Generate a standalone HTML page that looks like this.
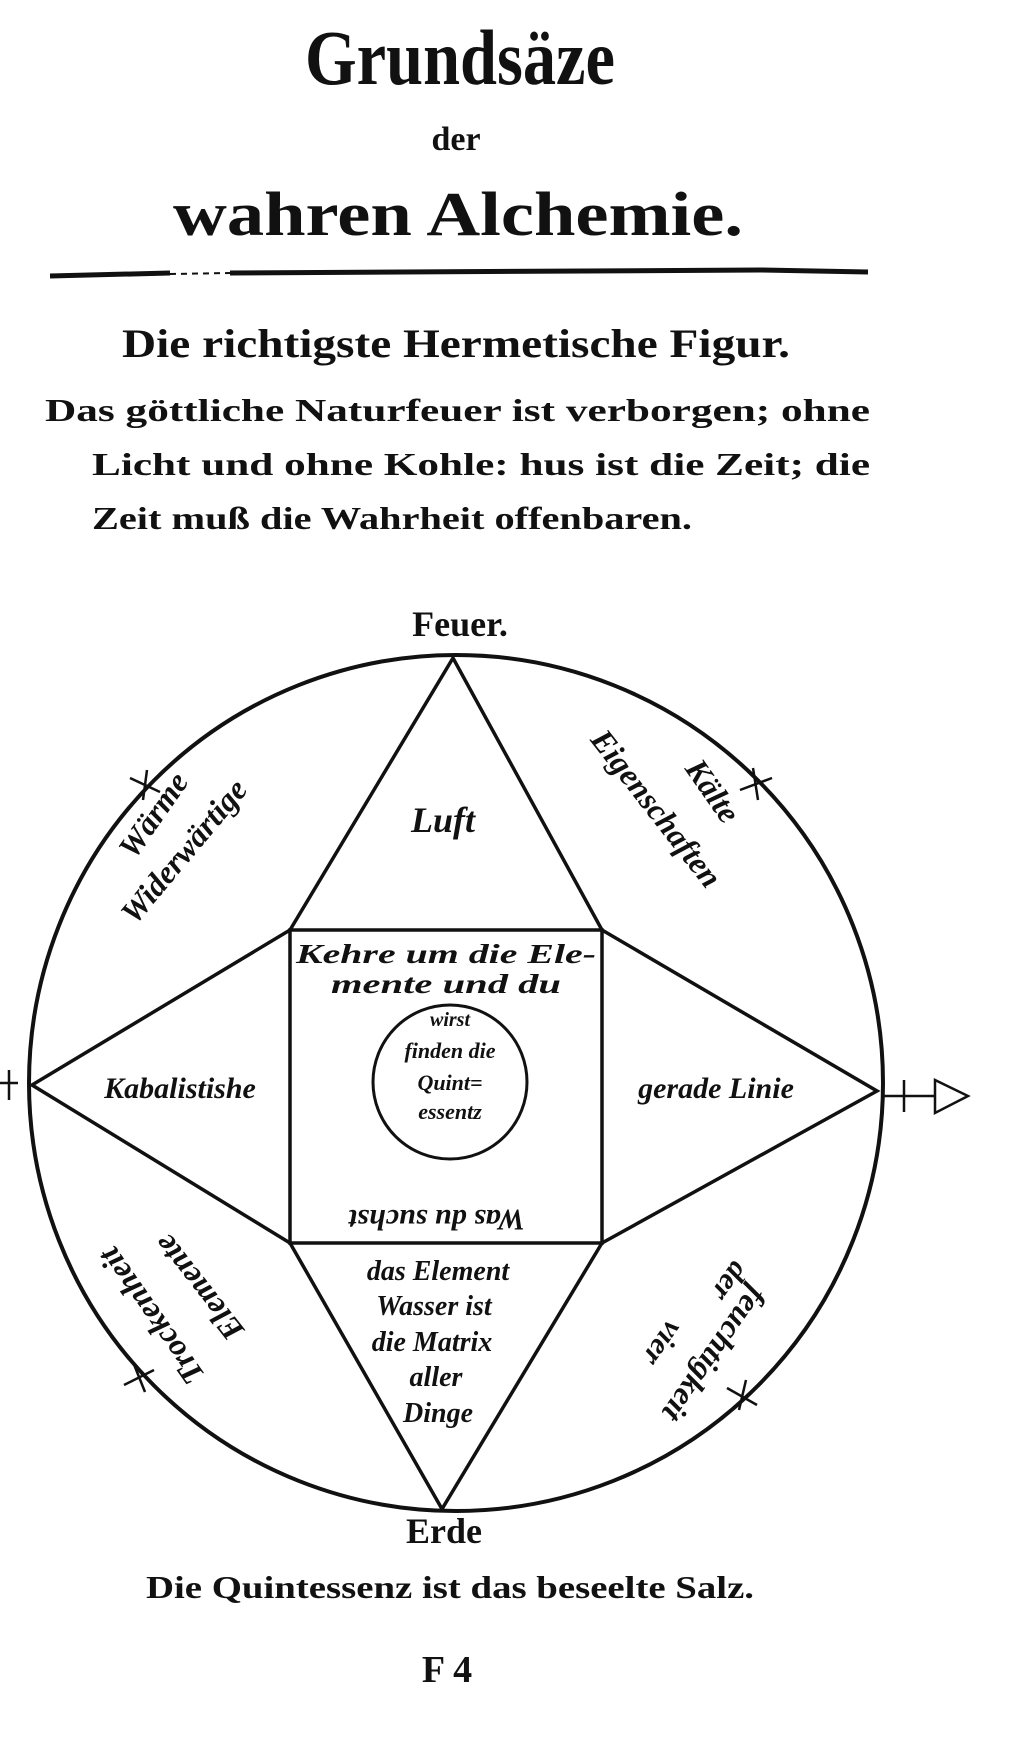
<!DOCTYPE html>
<html><head><meta charset="utf-8"><style>
html,body{margin:0;padding:0;background:#fff;}
svg{display:block;}
text{font-family:"Liberation Serif",serif;fill:#111;}
.it{font-style:italic;}
</style></head><body>
<svg width="1011" height="1756" viewBox="0 0 1011 1756" xmlns="http://www.w3.org/2000/svg">
<!-- header -->
<text x="460" y="84" font-size="78" font-weight="bold" text-anchor="middle" textLength="310" lengthAdjust="spacingAndGlyphs">Grundsäze</text>
<text x="456" y="150" font-size="34" font-weight="bold" text-anchor="middle">der</text>
<text x="458" y="235" font-size="62" font-weight="bold" text-anchor="middle" textLength="570" lengthAdjust="spacingAndGlyphs">wahren Alchemie.</text>
<path d="M50 276 L170 273 M230 273 L760 270 M760 270 L868 272" stroke="#111" stroke-width="5" fill="none"/>
<path d="M170 274 L230 273" stroke="#111" stroke-width="2" stroke-dasharray="6 5"/>
<text x="456" y="357" font-size="40" font-weight="bold" text-anchor="middle" textLength="668" lengthAdjust="spacingAndGlyphs">Die richtigste Hermetische Figur.</text>
<text x="45" y="421" font-size="32" font-weight="bold" textLength="825" lengthAdjust="spacingAndGlyphs">Das göttliche Naturfeuer ist verborgen; ohne</text>
<text x="92" y="475" font-size="32" font-weight="bold" textLength="778" lengthAdjust="spacingAndGlyphs">Licht und ohne Kohle: hus ist die Zeit; die</text>
<text x="92" y="529" font-size="32" font-weight="bold" textLength="600" lengthAdjust="spacingAndGlyphs">Zeit muß die Wahrheit offenbaren.</text>

<!-- diagram -->
<g stroke="#111" fill="none" stroke-width="4">
<ellipse cx="456" cy="1083" rx="427" ry="428"/>
<rect x="290" y="930" width="312" height="313" stroke-width="3.5"/>
<circle cx="450" cy="1082" r="77" stroke-width="3"/>
<path d="M290 930 L453 658 L602 930" stroke-width="3.5"/>
<path d="M290 1243 L442 1509 L602 1243" stroke-width="3.5"/>
<path d="M290 930 L32 1085 L290 1243" stroke-width="3.5"/>
<path d="M602 930 L877 1091 L602 1243" stroke-width="3.5"/>
<g stroke-width="2.5">
<path d="M130 778 L160 792 M147 770 L143 800"/>
<path d="M740 790 L772 778 M753 768 L758 800"/>
<path d="M124 1385 L154 1370 M133 1362 L145 1392"/>
<path d="M727 1388 L757 1405 M746 1380 L739 1410"/>
<path d="M0 1083 L18 1083 M9 1070 L9 1100"/>
<path d="M883 1096 L935 1096 M904 1080 L904 1112 M935 1080 L968 1096 L935 1113 Z"/>
</g>
</g>
<text x="460" y="636" font-size="36" font-weight="bold" text-anchor="middle">Feuer.</text>
<text x="444" y="1543" font-size="36" font-weight="bold" text-anchor="middle">Erde</text>
<text x="450" y="1598" font-size="32" font-weight="bold" text-anchor="middle" textLength="608" lengthAdjust="spacingAndGlyphs">Die Quintessenz ist das beseelte Salz.</text>
<text x="447" y="1682" font-size="38" font-weight="bold" text-anchor="middle">F 4</text>

<g class="it" font-weight="bold">
<text x="443" y="832" font-size="36" text-anchor="middle">Luft</text>
<text x="446" y="963" font-size="27" text-anchor="middle" textLength="300" lengthAdjust="spacingAndGlyphs">Kehre um die Ele-</text>
<text x="446" y="993" font-size="27" text-anchor="middle" textLength="230" lengthAdjust="spacingAndGlyphs">mente und du</text>
<text x="450" y="1026" font-size="20" text-anchor="middle">wirst</text>
<text x="450" y="1058" font-size="22" text-anchor="middle">finden die</text>
<text x="450" y="1090" font-size="22" text-anchor="middle">Quint=</text>
<text x="450" y="1119" font-size="22" text-anchor="middle">essentz</text>
<text x="180" y="1098" font-size="30" text-anchor="middle">Kabalistishe</text>
<text x="716" y="1098" font-size="30" text-anchor="middle">gerade Linie</text>
<text transform="translate(437,1210) rotate(180)" font-size="30" text-anchor="middle">Was du suchst</text>
<text x="438" y="1280" font-size="28" text-anchor="middle">das Element</text>
<text x="434" y="1315" font-size="28" text-anchor="middle">Wasser ist</text>
<text x="432" y="1351" font-size="28" text-anchor="middle">die Matrix</text>
<text x="436" y="1386" font-size="28" text-anchor="middle">aller</text>
<text x="438" y="1422" font-size="28" text-anchor="middle">Dinge</text>
<text transform="translate(162,821) rotate(-55)" font-size="32" text-anchor="middle">Wärme</text>
<text transform="translate(192,858) rotate(-50)" font-size="32" text-anchor="middle">Widerwärtige</text>
<text transform="translate(704,797) rotate(55)" font-size="32" text-anchor="middle">Kälte</text>
<text transform="translate(648,815) rotate(52)" font-size="32" text-anchor="middle">Eigenschaften</text>
<text transform="translate(160,1310) rotate(235)" font-size="32" text-anchor="middle">Trockenheit</text>
<text transform="translate(207,1281) rotate(232)" font-size="32" text-anchor="middle">Elemente</text>
<text transform="translate(706,1348) rotate(125)" font-size="32" text-anchor="middle">feuchtigkeit</text>
<text transform="translate(722,1276) rotate(125)" font-size="30" text-anchor="middle">der</text>
<text transform="translate(655,1338) rotate(125)" font-size="30" text-anchor="middle">vier</text>
</g>
</svg>
</body></html>
